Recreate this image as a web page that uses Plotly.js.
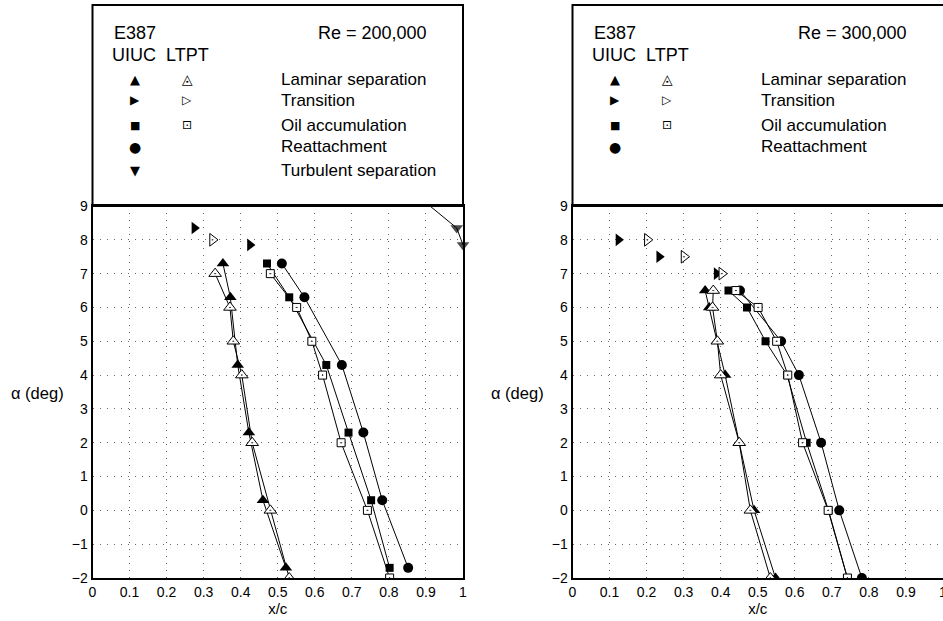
<!DOCTYPE html>
<html><head><meta charset="utf-8">
<script src="https://cdn.plot.ly/plotly-3.0.1.min.js"></script>
<style>html,body{margin:0;padding:0;background:#fff}#chart{width:943px;height:621px}</style>
</head><body><div id="chart"></div>
<script>
// ---------- data: Re = 200,000 ----------
const lam200_uiuc_x = [0.522, 0.460, 0.422, 0.392, 0.372, 0.352];
const lam200_uiuc_a = [-1.7, 0.3, 2.3, 4.3, 6.3, 7.3];
const lam200_ltpt_x = [0.531, 0.480, 0.431, 0.403, 0.380, 0.371, 0.331];
const lam200_ltpt_a = [-2, 0, 2, 4, 5, 6, 7];
const tr200_uiuc_x = [0.275, 0.425];
const tr200_uiuc_a = [8.35, 7.85];
const tr200_ltpt_x = [0.324];
const tr200_ltpt_a = [8.0];
const oil200_uiuc_x = [0.802, 0.752, 0.691, 0.631, 0.531, 0.471];
const oil200_uiuc_a = [-1.7, 0.3, 2.3, 4.3, 6.3, 7.3];
const oil200_ltpt_x = [0.802, 0.742, 0.671, 0.621, 0.592, 0.551, 0.480];
const oil200_ltpt_a = [-2, 0, 2, 4, 5, 6, 7];
const rea200_uiuc_x = [0.852, 0.782, 0.731, 0.673, 0.572, 0.511];
const rea200_uiuc_a = [-1.7, 0.3, 2.3, 4.3, 6.3, 7.3];
const turb200_uiuc_x = [1.0, 0.983, 0.872];
const turb200_uiuc_a = [7.85, 8.35, 9.35];

// ---------- data: Re = 300,000 ----------
const lam300_uiuc_x = [0.548, 0.490, 0.450, 0.412, 0.390, 0.369, 0.358];
const lam300_uiuc_a = [-2, 0, 2, 4, 5, 6, 6.5];
const lam300_ltpt_x = [0.534, 0.480, 0.450, 0.400, 0.391, 0.378, 0.380];
const lam300_ltpt_a = [-2, 0, 2, 4, 5, 6, 6.5];
const tr300_uiuc_x = [0.124, 0.234, 0.389];
const tr300_uiuc_a = [8, 7.5, 7];
const tr300_ltpt_x = [0.202, 0.301, 0.403];
const tr300_ltpt_a = [8, 7.5, 7];
const oil300_uiuc_x = [0.742, 0.691, 0.632, 0.579, 0.521, 0.471, 0.421];
const oil300_uiuc_a = [-2, 0, 2, 4, 5, 6, 6.5];
const oil300_ltpt_x = [0.742, 0.690, 0.621, 0.581, 0.551, 0.501, 0.441];
const oil300_ltpt_a = [-2, 0, 2, 4, 5, 6, 6.5];
const rea300_uiuc_x = [0.781, 0.720, 0.671, 0.611, 0.563, 0.452];
const rea300_uiuc_a = [-2, 0, 2, 4, 5, 6.5];

// ---------- tick labels ----------
const xTicks = [0, 0.1, 0.2, 0.3, 0.4, 0.5, 0.6, 0.7, 0.8, 0.9, 1];
const yTicks = [-2, -1, 0, 1, 2, 3, 4, 5, 6, 7, 8, 9];
const legendLabels200 = ['Laminar separation', 'Transition', 'Oil accumulation', 'Reattachment', 'Turbulent separation'];
const legendLabels300 = ['Laminar separation', 'Transition', 'Oil accumulation', 'Reattachment'];

const Y_MAX = 9;
const W = 943, H = 621;
const px = v => v / W;
const py = v => 1 - v / H;

function filled(sym, size) { return {symbol: sym, size: size, color: 'black', line: {width: 0}}; }
function openM(sym, size) { return {symbol: sym, size: size, color: 'white', line: {color: 'black', width: 1}}; }

function tr(x, a, mode, marker, ax) {
  return {x: x, y: a, mode: mode, type: 'scatter', xaxis: ax[0], yaxis: ax[1],
    line: {color: 'black', width: 1}, marker: marker, showlegend: false, hoverinfo: 'x+y'};
}

const A1 = ['x', 'y'], A2 = ['x2', 'y2'];
const turbMarker = filled('triangle-down', 11);
turbMarker.size = turb200_uiuc_a.map(a => a > Y_MAX ? 0 : 11);
const turbTrace = tr(turb200_uiuc_x, turb200_uiuc_a, 'lines+markers', turbMarker, A1);
turbTrace.cliponaxis = false;

const data = [
  tr(lam200_uiuc_x, lam200_uiuc_a, 'lines+markers', filled('triangle-up', 11), A1),
  tr(oil200_uiuc_x, oil200_uiuc_a, 'lines+markers', filled('square', 8), A1),
  tr(rea200_uiuc_x, rea200_uiuc_a, 'lines+markers', filled('circle', 10), A1),
  tr(tr200_uiuc_x, tr200_uiuc_a, 'markers', filled('triangle-right', 11), A1),
  turbTrace,
  tr(lam200_ltpt_x, lam200_ltpt_a, 'lines+markers', openM('triangle-up-dot', 11), A1),
  tr(oil200_ltpt_x, oil200_ltpt_a, 'lines+markers', openM('square-dot', 8), A1),
  tr(tr200_ltpt_x, tr200_ltpt_a, 'markers', openM('triangle-right-dot', 11), A1),

  tr(lam300_uiuc_x, lam300_uiuc_a, 'lines+markers', filled('triangle-up', 11), A2),
  tr(oil300_uiuc_x, oil300_uiuc_a, 'lines+markers', filled('square', 8), A2),
  tr(rea300_uiuc_x, rea300_uiuc_a, 'lines+markers', filled('circle', 10), A2),
  tr(tr300_uiuc_x, tr300_uiuc_a, 'markers', filled('triangle-right', 11), A2),
  tr(lam300_ltpt_x, lam300_ltpt_a, 'lines+markers', openM('triangle-up-dot', 11), A2),
  tr(oil300_ltpt_x, oil300_ltpt_a, 'lines+markers', openM('square-dot', 8), A2),
  tr(tr300_ltpt_x, tr300_ltpt_a, 'markers', openM('triangle-right-dot', 11), A2)
];

const FONT = 'Liberation Sans, Arial, Helvetica, sans-serif';
const SYMF = 'DejaVu Sans, sans-serif';

const L0 = 92.5, L1 = 463, R0 = 572.5;
const yBot = 578, yTop = 206, boxTop = 5;

function xa(d0, d1, mirror) {
  return {domain: [px(d0), px(d1)], range: [0, 1], tickvals: xTicks, ticks: '',
    showgrid: true, gridcolor: '#666', gridwidth: 1, griddash: '1px,6px', zeroline: false,
    showline: true, linecolor: 'black', linewidth: 2, mirror: mirror, ticklabeloverflow: 'allow',
    tickfont: {family: FONT, size: 14, color: 'black'},
    title: {text: 'x/c', font: {family: FONT, size: 15, color: 'black'}, standoff: 1}};
}
function ya(anchor, mirror) {
  return {domain: [py(yBot), py(yTop)], range: [-2, 9], tickvals: yTicks, ticks: '', anchor: anchor,
    showgrid: true, gridcolor: '#666', gridwidth: 1, griddash: '1px,6px', zeroline: false,
    showline: true, linecolor: 'black', linewidth: 2, mirror: mirror,
    tickfont: {family: FONT, size: 14, color: 'black'}};
}

const annotations = [];
function ann(text, x, y, size, xanchor, fam) {
  annotations.push({text: text, x: px(x), y: py(y), xref: 'paper', yref: 'paper', showarrow: false,
    xanchor: xanchor, yanchor: 'middle', font: {family: fam || FONT, size: size, color: 'black'}});
}
const rowsY = [79, 100, 125, 147, 170];
const filledSyms = ['▲', '▶', '■', '●', '▼'];
const filledSizes = [13, 12, 11, 14, 13];
const openSyms = ['◬', '▷', '⊡'];
const openSizes = [14, 12, 12];

function panelLegend(x0, re, labels) {
  ann('E387', x0 + 19, 33, 18, 'left');
  ann(re, x0 + 223, 33, 18, 'left');
  ann('UIUC  LTPT', x0 + 17, 55, 18, 'left');
  labels.forEach((lab, i) => {
    ann(filledSyms[i], x0 + 42, rowsY[i], filledSizes[i], 'center', SYMF);
    if (i < openSyms.length) ann(openSyms[i], x0 + 94, rowsY[i], openSizes[i], 'center', SYMF);
    ann(lab, x0 + 186, rowsY[i], 17, 'left');
  });
  ann('α (deg)', x0 - 55, 393, 16.5, 'center');
}
panelLegend(L0, 'Re = 200,000', legendLabels200);
panelLegend(R0, 'Re = 300,000', legendLabels300);

const shapes = [
  {type: 'rect', xref: 'paper', yref: 'paper', x0: px(L0), x1: px(L1), y0: py(yTop), y1: py(boxTop),
    line: {color: 'black', width: 2}, fillcolor: 'rgba(0,0,0,0)'},
  {type: 'rect', xref: 'paper', yref: 'paper', x0: px(R0), x1: 1.05, y0: py(yTop), y1: py(boxTop),
    line: {color: 'black', width: 2}, fillcolor: 'rgba(0,0,0,0)'}
];

const layout = {
  width: W, height: H, margin: {l: 0, r: 0, t: 0, b: 0},
  paper_bgcolor: 'white', plot_bgcolor: 'white', showlegend: false,
  font: {family: FONT, color: 'black'},
  xaxis: Object.assign(xa(L0, L1, true), {anchor: 'y'}),
  yaxis: ya('x', true),
  xaxis2: Object.assign(xa(R0, W, true), {anchor: 'y2'}),
  yaxis2: ya('x2', false),
  annotations: annotations, shapes: shapes
};

Plotly.newPlot('chart', data, layout, {displayModeBar: false, staticPlot: true});
</script></body></html>
